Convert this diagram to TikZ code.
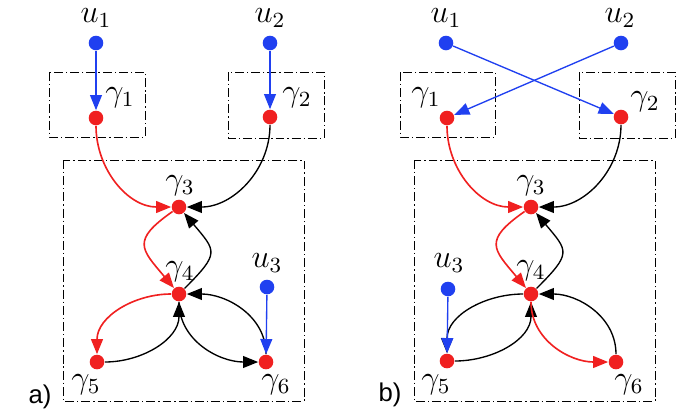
\RequirePackage{fix-cm}
\documentclass[tikz,border=0pt]{standalone}
\usepackage{fontspec}
\newfontfamily\labfont{Liberation Sans}
\usetikzlibrary{arrows.meta}
\definecolor{dotred}{RGB}{240,32,32}
\definecolor{dotblue}{RGB}{32,64,240}
\begin{document}
\begin{tikzpicture}[x=0.37pt,y=0.37pt,
  dotr/.style={circle,fill=dotred,inner sep=0pt,minimum size=5.4pt},
  dotb/.style={circle,fill=dotblue,inner sep=0pt,minimum size=5.4pt},
  lab/.style={inner sep=0pt,font=\fontsize{12}{14}\selectfont},
  panel/.style={inner sep=0pt,font=\labfont\fontsize{9.5}{11}\selectfont},
  boxline/.style={draw,line width=0.35pt,dash pattern=on 3.3pt off 1.1pt on 0.5pt off 1.1pt},
  tip/.style={-{Triangle[length=5.6pt,width=4.4pt]}},
  redarr/.style={tip,draw=dotred,line width=0.6pt},
  blkarr/.style={tip,draw=black,line width=0.5pt},
  bluarr/.style={tip,draw=dotblue,line width=0.5pt},
  loop/.style={looseness=1.7}]
\useasboundingbox (0,0) rectangle (686,414);

% ---------------- panel a ----------------
\draw[boxline] (49,342) rectangle (145,277);
\draw[boxline] (228,342) rectangle (324,276);
\draw[boxline] (63,254) rectangle (304,13);

\node[dotb] (au1) at (96,371) {};
\node[dotb] (au2) at (270,371) {};
\node[dotr] (ag1) at (96,296) {};
\node[dotr] (ag2) at (270,297) {};
\node[dotr] (ag3) at (179,207) {};
\node[dotr] (ag4) at (179,120) {};
\node[dotr] (ag5) at (97,52) {};
\node[dotr] (ag6) at (266,52) {};
\node[dotb] (au3) at (267,127) {};

\node[lab] (alu1) at (96,396) {$u_1$};
\node[lab] (alu2) at (270,396) {$u_2$};
\node[lab] (alg1) at (120,316) {$\gamma_1$};
\node[lab] (alg2) at (297,316) {$\gamma_2$};
\node[lab] (alg3) at (180,228) {$\gamma_3$};
\node[lab] (alg4) at (180,142) {$\gamma_4$};
\node[lab] (alg5) at (86,29) {$\gamma_5$};
\node[lab] (alg6) at (276,29) {$\gamma_6$};
\node[lab] (alu3) at (267,151) {$u_3$};
\node[panel] (alab) at (40,17) {a)};

\draw[redarr] (ag1) to[out=-90,in=180] (ag3);
\draw[blkarr] (ag2) to[out=-90,in=0] (ag3);
\draw[redarr] (ag3) to[out=215,in=130,loop] (ag4);
\draw[blkarr] (ag4) to[out=45,in=-50,loop] (ag3);
\draw[redarr] (ag4) to[out=180,in=90] (ag5);
\draw[blkarr] (ag5) to[out=0,in=-90] (ag4);
\draw[blkarr] (ag4) to[out=-90,in=180] (ag6);
\draw[blkarr] (ag6) to[out=90,in=0] (ag4);
\draw[bluarr] (au1) -- (ag1);
\draw[bluarr] (au2) -- (ag2);
\draw[bluarr] (au3) -- (ag6);

% ---------------- panel b ----------------
\draw[boxline] (400,342) rectangle (495,277);
\draw[boxline] (579,342) rectangle (675,276);
\draw[boxline] (414,254) rectangle (655,13);

\node[dotb] (bu1) at (446,371) {};
\node[dotb] (bu2) at (621,371) {};
\node[dotr] (bg1) at (447,296) {};
\node[dotr] (bg2) at (621,297) {};
\node[dotr] (bg3) at (531,207) {};
\node[dotr] (bg4) at (531,120) {};
\node[dotr] (bg5) at (447,53) {};
\node[dotr] (bg6) at (616,52) {};
\node[dotb] (bu3) at (448,125) {};

\node[lab] (blu1) at (446,396) {$u_1$};
\node[lab] (blu2) at (620,396) {$u_2$};
\node[lab] (blg1) at (426,316) {$\gamma_1$};
\node[lab] (blg2) at (645,312) {$\gamma_2$};
\node[lab] (blg3) at (531,228) {$\gamma_3$};
\node[lab] (blg4) at (531,143) {$\gamma_4$};
\node[lab] (blg5) at (436,29) {$\gamma_5$};
\node[lab] (blg6) at (629,29) {$\gamma_6$};
\node[lab] (blu3) at (449,151) {$u_3$};
\node[panel] (blab) at (390,19) {b)};

\draw[redarr] (bg1) to[out=-90,in=180] (bg3);
\draw[blkarr] (bg2) to[out=-90,in=0] (bg3);
\draw[redarr] (bg3) to[out=215,in=130,loop] (bg4);
\draw[blkarr] (bg4) to[out=45,in=-50,loop] (bg3);
\draw[blkarr] (bg4) to[out=180,in=90] (bg5);
\draw[blkarr] (bg5) to[out=0,in=-90] (bg4);
\draw[redarr] (bg4) to[out=-90,in=180] (bg6);
\draw[blkarr] (bg6) to[out=90,in=0] (bg4);
\draw[bluarr] (bu1) -- (bg2);
\draw[bluarr] (bu2) -- (bg1);
\draw[bluarr] (bu3) -- (bg5);
\end{tikzpicture}
\end{document}
